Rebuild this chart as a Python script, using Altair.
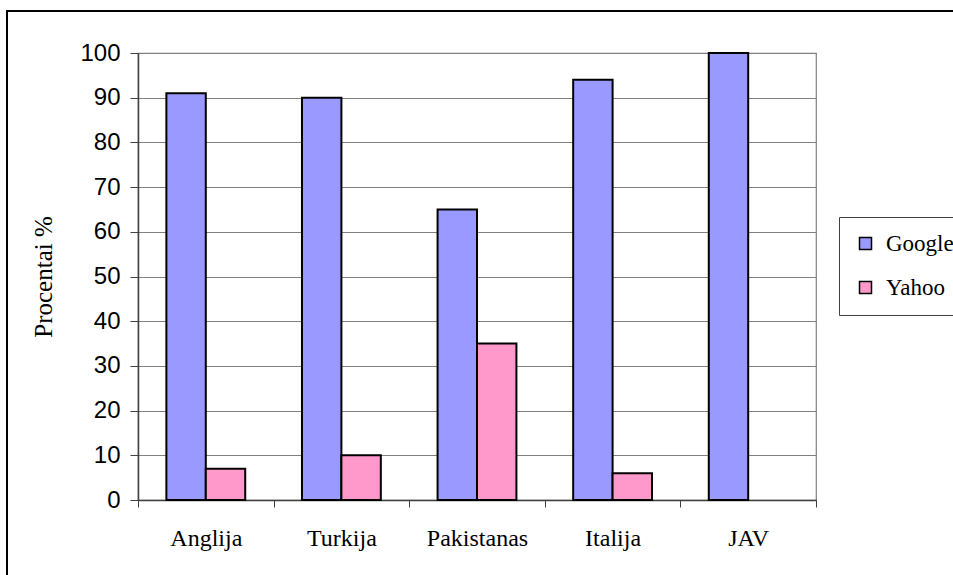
import altair as alt
import pandas as pd

countries = ["Anglija", "Turkija", "Pakistanas", "Italija", "JAV"]
google = [91, 90, 65, 94, 100]
yahoo = [7, 10, 35, 6, 0]
series = ["Google", "Yahoo"]
colors = ["#9999FF", "#FF99CC"]
y_ticks = [0, 10, 20, 30, 40, 50, 60, 70, 80, 90, 100]

rows = []
for c, g, yv in zip(countries, google, yahoo):
    rows.append({"country": c, "engine": "Google", "value": g})
    rows.append({"country": c, "engine": "Yahoo", "value": yv})
df = pd.DataFrame(rows)

W, H = 678, 447
PL, PT = 138, 53
SERIF = "Liberation Serif"

bars = alt.Chart(df).transform_filter("datum.value > 0").mark_bar(
    stroke="black", strokeWidth=2
).encode(
    x=alt.X(
        "country:N",
        sort=countries,
        scale=alt.Scale(domain=countries, paddingInner=0, paddingOuter=0),
        axis=alt.Axis(
            title=None,
            labelAngle=0,
            labelFont=SERIF,
            labelFontSize=24,
            labelColor="black",
            labelPadding=19,
            tickBand="extent",
            tickSize=7,
            tickColor="#404040",
            domainColor="#404040",
            domainWidth=1.5,
            grid=False,
        ),
    ),
    xOffset=alt.XOffset(
        "engine:N",
        sort=series,
        scale=alt.Scale(domain=series, paddingInner=0, paddingOuter=0.72),
    ),
    y=alt.Y(
        "value:Q",
        scale=alt.Scale(domain=[0, 100], nice=False),
        axis=alt.Axis(
            title="Procentai %",
            titleFont=SERIF,
            titleFontSize=25,
            titleFontWeight="normal",
            titleColor="black",
            titleX=-82,
            values=y_ticks,
            labelFont="Liberation Sans",
            labelFontSize=24,
            labelColor="black",
            labelPadding=10,
            tickSize=8,
            tickColor="#404040",
            domainColor="#404040",
            domainWidth=1.5,
            grid=True,
            gridColor="#808080",
            gridWidth=1.2,
        ),
    ),
    color=alt.Color(
        "engine:N",
        sort=series,
        scale=alt.Scale(domain=series, range=colors),
        legend=alt.Legend(
            title=None,
            orient="none",
            legendX=701,
            legendY=164,
            symbolType="square",
            symbolSize=144,
            symbolStrokeColor="black",
            symbolStrokeWidth=1.5,
            symbolOpacity=1,
            labelFont=SERIF,
            labelFontSize=23,
            labelColor="black",
            labelOffset=9,
            rowPadding=20,
            padding=15,
            strokeColor="#404040",
            fillColor="white",
        ),
    ),
)

border = alt.Chart(pd.DataFrame({"k": [0]})).mark_rect(
    fill=None, stroke="black", strokeWidth=2
).encode(
    x=alt.value(7 - PL),
    x2=alt.value(1100 - PL),
    y=alt.value(11 - PT),
    y2=alt.value(700 - PT),
)

chart = alt.layer(border, bars).properties(
    width=W,
    height=H,
    background="white",
    autosize=alt.AutoSizeParams(type="none"),
    padding={"left": PL, "top": PT, "right": 953 - PL - W, "bottom": 575 - PT - H},
).configure_view(stroke="#808080", strokeWidth=1.2).configure_legend(
    labelFont=SERIF, labelFontSize=23
)

chart.save("out.html", embed_options={"renderer": "svg", "actions": False})
